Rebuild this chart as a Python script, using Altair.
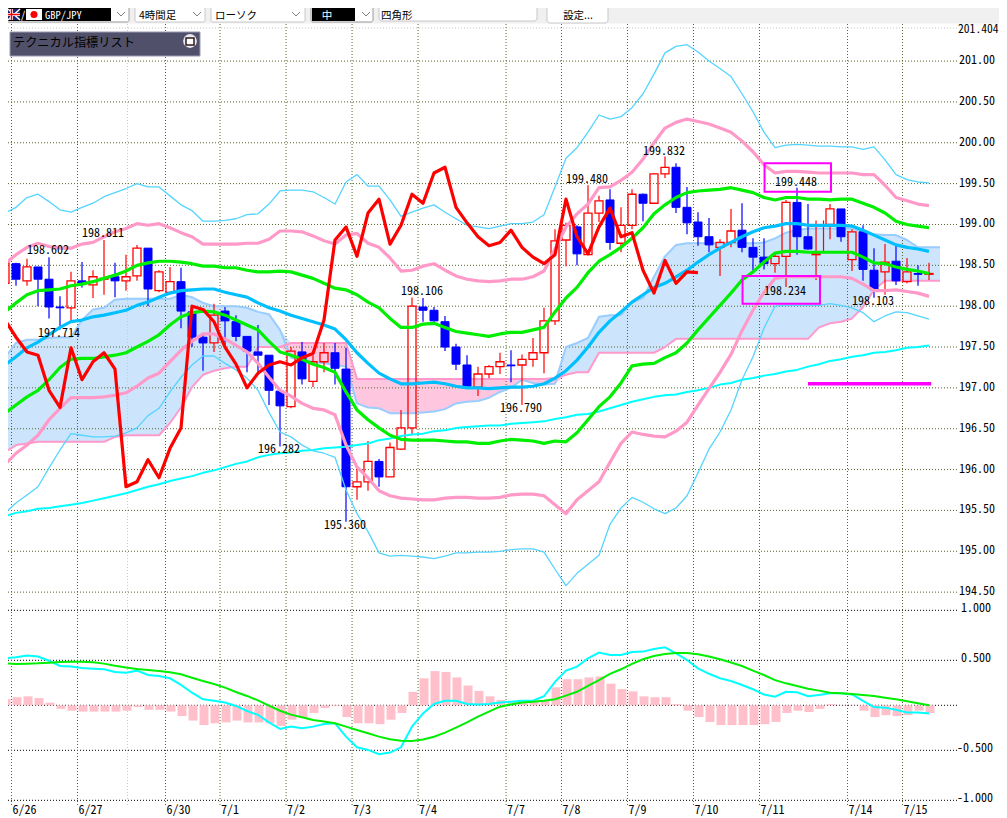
import altair as alt
import numpy as np
import pandas as pd

MONO = "Noto Sans Mono CJK JP, DejaVu Sans Mono, monospace"
CJK = "Noto Sans CJK JP"

opens = [198.28,198.52,198.31,198.48,198.33,197.99,197.98,198.31,198.26,198.33,
198.36,198.31,198.37,198.71,198.19,198.17,198.30,197.93,197.62,197.55,
197.94,197.81,197.63,197.44,197.40,196.96,196.77,197.44,197.08,197.32,
197.43,197.23,195.79,195.85,196.10,195.91,196.25,196.51,197.99,197.95,
197.81,197.50,197.28,197.01,197.17,197.26,197.28,197.28,197.35,197.43,
197.82,198.81,198.97,198.63,199.14,199.30,198.77,198.99,199.37,199.26,
199.62,199.70,199.21,199.03,198.85,198.72,198.78,198.93,198.72,198.60,
198.52,198.61,199.27,198.85,198.63,199.00,199.19,198.57,198.91,198.44,
198.42,198.55,198.30,198.40,198.39]
highs = [198.58,198.53,198.58,198.48,198.60,198.12,198.42,198.54,198.44,198.811,
198.53,198.63,198.75,198.71,198.44,198.48,198.47,198.01,197.67,198.03,
197.99,197.89,197.63,197.77,197.40,196.96,197.50,197.56,197.40,197.55,
197.55,197.49,196.01,196.35,196.13,196.33,196.73,198.106,198.10,197.99,
197.88,197.54,197.40,197.26,197.28,197.43,197.46,197.41,197.61,197.98,
198.94,199.02,198.99,199.48,199.35,199.43,199.21,199.43,199.38,199.63,
199.832,199.75,199.46,199.15,199.08,198.82,199.19,199.26,198.83,198.83,
198.66,199.30,199.448,199.25,199.05,199.25,199.19,198.94,198.99,198.71,
198.76,198.74,198.59,198.50,198.53]
lows = [198.12,198.25,198.25,198.00,197.85,197.714,197.82,198.23,198.10,198.14,
198.11,198.19,198.31,198.00,198.17,198.17,197.73,197.50,197.21,197.44,
197.52,197.57,197.19,197.19,196.79,196.282,196.75,197.04,197.01,197.19,
197.04,195.36,195.63,195.74,195.79,195.91,196.24,196.42,197.81,197.81,
197.45,197.22,197.02,196.90,197.12,197.17,197.07,196.79,197.26,197.18,
197.77,198.49,198.50,198.63,199.03,198.69,198.66,198.94,199.04,199.26,
199.57,199.14,198.88,198.74,198.66,198.37,198.72,198.66,198.42,198.45,
198.41,198.234,198.63,198.69,198.32,198.82,198.79,198.43,198.31,198.103,
198.14,198.26,198.28,198.25,198.32]
closes = [198.53,198.33,198.48,198.33,197.99,197.98,198.31,198.28,198.36,198.34,
198.31,198.36,198.71,198.21,198.42,198.30,197.94,197.62,197.55,197.89,
197.82,197.63,197.45,197.40,196.97,196.78,197.45,197.11,197.32,197.43,
197.24,195.79,195.85,196.10,195.91,196.27,196.51,198.00,197.95,197.82,
197.50,197.29,197.02,197.17,197.26,197.32,197.27,197.35,197.43,197.82,
198.80,198.99,198.64,199.14,199.29,198.78,198.99,199.37,199.26,199.62,
199.70,199.21,199.02,198.85,198.75,198.78,198.92,198.72,198.60,198.52,
198.61,199.27,198.85,198.70,198.64,199.19,198.85,198.91,198.45,198.20,
198.54,198.31,198.42,198.39,198.40]
candle_x = list(range(85))
candle_x[74] = 73.73
extra_wick_x = [74.41]
extra_wick_hi = [199.05]
extra_wick_lo = [198.66]

upper3 = [199.14,199.21,199.33,199.37,199.28,199.18,199.15,199.21,199.26,199.34,
199.39,199.44,199.50,199.46,199.46,199.35,199.24,199.17,199.04,199.04,
199.05,199.07,199.12,199.13,199.25,199.41,199.42,199.42,199.40,199.33,199.25,
199.52,199.61,199.47,199.47,199.30,199.10,199.15,199.20,199.24,199.15,
199.07,198.99,198.97,198.95,198.98,199.01,199.01,199.03,199.12,199.46,
199.81,199.94,200.13,200.34,200.29,200.32,200.43,200.60,200.84,201.10,
201.18,201.20,201.11,201.00,200.91,200.81,200.60,200.38,200.13,199.94,
199.97,199.98,199.97,199.96,199.96,199.95,199.95,199.92,199.95,199.79,
199.61,199.55,199.52,199.51]
upper2 = [198.52,198.63,198.72,198.77,198.73,198.71,198.71,198.76,198.78,198.85,
198.91,198.95,199.01,198.99,199.01,198.96,198.90,198.85,198.76,198.76,
198.76,198.76,198.77,198.77,198.82,198.92,198.92,198.91,198.86,198.80,198.76,
198.87,198.89,198.77,198.72,198.59,198.43,198.44,198.49,198.52,198.44,
198.37,198.33,198.31,198.30,198.31,198.33,198.33,198.36,198.43,198.70,
198.97,199.13,199.25,199.45,199.46,199.54,199.64,199.80,200.00,200.18,
200.25,200.29,200.26,200.23,200.18,200.13,200.02,199.89,199.73,199.63,
199.65,199.65,199.64,199.63,199.63,199.63,199.63,199.61,199.61,199.48,
199.33,199.29,199.25,199.23]
upper1 = [197.93,198.04,198.14,198.19,198.20,198.21,198.25,198.27,198.30,198.34,
198.38,198.43,198.50,198.53,198.55,198.55,198.54,198.52,198.49,198.49,
198.47,198.47,198.44,198.42,198.42,198.43,198.42,198.38,198.34,198.28,198.22,
198.20,198.14,198.05,197.98,197.85,197.74,197.74,197.78,197.79,197.74,
197.69,197.67,197.65,197.63,197.66,197.68,197.68,197.71,197.74,197.93,
198.10,198.23,198.41,198.55,198.63,198.72,198.83,198.96,199.13,199.24,
199.33,199.39,199.41,199.42,199.43,199.45,199.42,199.39,199.33,199.30,
199.33,199.33,199.31,199.31,199.30,199.31,199.31,199.26,199.21,199.14,
199.04,199.00,198.98,198.96]
middle = [197.28,197.38,197.49,197.56,197.65,197.74,197.81,197.83,197.87,197.89,
197.92,197.95,198.01,198.05,198.11,198.16,198.19,198.20,198.21,198.21,
198.17,198.14,198.11,198.04,197.98,197.94,197.89,197.85,197.81,197.77,197.72,
197.59,197.43,197.30,197.18,197.11,197.05,197.05,197.06,197.07,197.05,
197.02,197.00,197.00,196.99,197.00,197.01,197.01,197.02,197.05,197.12,
197.21,197.34,197.50,197.68,197.82,197.93,198.05,198.14,198.23,198.28,
198.36,198.44,198.54,198.63,198.71,198.78,198.85,198.91,198.96,198.98,
199.01,199.01,198.99,198.99,198.99,198.99,198.98,198.93,198.87,198.81,
198.75,198.72,198.70,198.67]
lower1 = [196.69,196.79,196.89,196.97,197.10,197.25,197.35,197.36,197.36,197.38,
197.40,197.43,197.50,197.57,197.65,197.77,197.87,197.92,197.94,197.93,
197.89,197.83,197.77,197.71,197.57,197.44,197.40,197.35,197.29,197.25,197.19,
196.95,196.73,196.61,196.51,196.42,196.37,196.36,196.36,196.36,196.35,
196.34,196.34,196.32,196.32,196.35,196.37,196.36,196.35,196.32,196.35,
196.34,196.45,196.61,196.77,196.89,197.06,197.27,197.29,197.30,197.37,
197.43,197.55,197.71,197.86,198.01,198.16,198.32,198.42,198.54,198.65,
198.67,198.67,198.66,198.66,198.66,198.66,198.66,198.60,198.53,198.52,
198.48,198.45,198.43,198.40]
lower2 = [196.06,196.20,196.30,196.42,196.61,196.75,196.88,196.88,196.88,196.89,
196.91,196.94,197.02,197.12,197.18,197.32,197.46,197.57,197.66,197.66,
197.60,197.52,197.44,197.30,197.13,196.97,196.90,196.81,196.75,196.73,196.67,
196.30,196.03,195.90,195.74,195.68,195.65,195.64,195.63,195.63,195.65,
195.66,195.66,195.65,195.65,195.66,195.69,195.70,195.70,195.68,195.57,
195.46,195.63,195.74,195.85,196.09,196.32,196.46,196.43,196.41,196.40,
196.47,196.58,196.79,196.99,197.19,197.41,197.70,197.95,198.17,198.34,
198.36,198.36,198.36,198.36,198.36,198.36,198.34,198.27,198.19,198.19,
198.20,198.18,198.16,198.12]
lower3 = [195.47,195.59,195.69,195.79,196.02,196.24,196.44,196.42,196.40,196.40,
196.41,196.45,196.51,196.66,196.75,196.95,197.13,197.28,197.39,197.39,
197.30,197.22,197.12,196.97,196.70,196.46,196.40,196.30,196.23,196.20,196.15,
195.75,195.46,195.24,194.98,194.94,194.95,194.94,194.93,194.91,194.94,
194.98,194.98,194.99,194.99,195.00,195.02,195.03,195.03,194.99,194.78,
194.58,194.73,194.84,194.95,195.33,195.53,195.66,195.60,195.52,195.46,
195.53,195.68,195.96,196.25,196.46,196.73,197.10,197.38,197.73,198.00,
198.01,198.01,198.01,198.01,198.03,198.01,197.98,197.92,197.81,197.88,
197.93,197.92,197.88,197.84]
long_ma = [195.43,195.47,195.49,195.52,195.53,195.55,195.57,195.59,195.62,195.65,
195.68,195.71,195.75,195.79,195.82,195.86,195.89,195.92,195.96,195.99,
196.03,196.07,196.10,196.15,196.18,196.20,196.21,196.23,196.24,196.26,196.27,
196.28,196.30,196.32,196.36,196.38,196.41,196.43,196.44,196.47,196.48,
196.51,196.52,196.53,196.54,196.54,196.56,196.57,196.58,196.59,196.62,
196.64,196.67,196.68,196.71,196.75,196.79,196.83,196.86,196.89,196.91,
196.92,196.95,196.97,197.00,197.04,197.06,197.10,197.12,197.15,197.17,
197.20,197.22,197.26,197.29,197.33,197.35,197.38,197.40,197.43,197.44,
197.46,197.49,197.50,197.52]
chikou = [197.83,197.62,197.44,197.40,196.97,196.76,197.49,197.10,197.32,197.43,
197.23,195.79,195.85,196.12,195.90,196.26,196.51,198.00,197.96,197.81,
197.50,197.29,197.00,197.18,197.28,197.32,197.28,197.37,197.42,197.83,198.81,
198.97,198.61,199.14,199.31,198.76,198.99,199.37,199.26,199.63,199.70,
199.21,199.02,198.85,198.74,198.78,198.93,198.72,198.60,198.52,198.63,
199.31,198.85,198.64,198.97,199.20,198.85,198.90,198.44,198.16,198.56,
198.28,198.42,198.41]
span_a = [197.37,197.55,197.59,197.59,197.61,197.62,197.62,197.83,197.96,197.98,
198.08,198.09,198.09,198.09,198.09,198.09,198.14,198.11,198.04,198.00,
198.00,198.00,197.98,197.93,197.90,197.71,197.37,197.35,197.32,197.30,
197.28,197.26,196.81,196.76,196.75,196.69,196.69,196.69,196.70,196.71,
196.74,196.81,196.83,196.84,196.88,196.95,197.00,197.10,197.06,197.04,
197.05,197.50,197.55,197.61,197.87,197.89,197.89,198.05,198.10,198.36,
198.61,198.75,198.77,198.77,198.77,198.77,198.77,198.77,198.77,198.78,
198.83,198.90,198.93,198.95,198.95,198.95,198.95,198.95,198.91,198.88,
198.87,198.87,198.81,198.72,198.72,198.72]
span_b = ([196.21,196.30,196.32] + [196.34]*7 + [196.40] + [196.42]*4 +
          [196.57,196.76,197.01,197.16,197.21,197.24,197.26,197.26] + [197.50]*3 +
          [197.55]*6 + [197.11]*18 + [197.12,197.16,197.19,197.19] + [197.43]*6 +
          [197.50] + [197.60]*13 + [197.74,197.79,197.81,197.85,197.99,198.20] + [198.31]*6)

macd_hist = [.07,.09,.10,.08,.03,-.04,-.06,-.07,-.07,-.07,-.07,-.06,-.02,-.05,-.05,-.07,
-.12,-.17,-.22,-.20,-.19,-.17,-.19,-.19,-.20,-.23,-.16,-.14,-.085,-.03,-.01,-.13,-.20,-.20,
-.21,-.16,-.085,.15,.30,.38,.37,.31,.22,.16,.10,.06,.05,.04,.05,.06,.20,.29,.29,.31,.32,
.24,.18,.155,.10,.09,.09,.015,-.06,-.13,-.185,-.22,-.22,-.22,-.22,-.21,-.185,-.085,-.06,
-.075,-.04,.015,.004,.004,-.06,-.13,-.11,-.12,-.11,-.06,-.085]
macd_line = [.52,.53,.547,.537,.495,.437,.43,.415,.407,.40,.37,.363,.385,.337,.326,.30,.226,
.14,.067,.05,.03,-.007,-.063,-.107,-.19,-.263,-.237,-.256,-.237,-.207,-.2,-.348,-.467,-.496,
-.54,-.523,-.467,-.237,-.09,.015,.05,.05,.015,.01,.015,.03,.04,.05,.05,.10,.26,.385,.43,.52,
.577,.553,.553,.583,.587,.613,.63,.57,.503,.41,.35,.30,.27,.226,.178,.12,.096,.15,.145,.10,
.115,.133,.133,.12,.05,-.02,-.026,-.05,-.08,-.08,-.09]
macd_signal = [.467,.46,.463,.467,.474,.48,.485,.485,.478,.463,.44,.42,.404,.393,.38,.367,.344,
.307,.27,.237,.196,.148,.104,.055,-.004,-.06,-.104,-.133,-.163,-.18,-.2,-.237,-.274,-.31,-.348,
-.377,-.393,-.396,-.381,-.35,-.303,-.248,-.19,-.126,-.07,-.015,.01,.03,.04,.05,.067,.107,.15,
.215,.28,.35,.40,.46,.51,.543,.563,.573,.573,.56,.537,.51,.476,.437,.385,.337,.28,.244,.215,
.185,.163,.14,.133,.126,.115,.104,.085,.067,.044,.022,0]

price_ticks = [194.5 + 0.5*k for k in range(14)]
price_labels = ["%.2f" % p for p in price_ticks]
macd_ticks = [1.0, 0.5, 0.0, -0.5, -1.0]
macd_labels = ["1.000", "0.500", "", "-0.500", "-1.000"]
date_x = [0.59,6.59,14.59,19.55,25.55,31.55,37.55,45.55,50.59,56.59,62.59,68.59,76.59,81.59]
date_labels = ["6/26","6/27","6/30","7/1","7/2","7/3","7/4","7/7","7/8","7/9","7/10","7/11","7/14","7/15"]
light_grid_x = [11.14]
note_x = [3.9,8.9,4.9,24.9,30.9,37.9,46.9,52.9,59.9,71.9,70.9,78.9]
note_y = [198.69,198.90,197.67,196.25,195.32,198.19,196.75,199.56,199.90,199.52,198.19,198.06]
note_t = ["198.602","198.811","197.714","196.282","195.360","198.106","196.790","199.480","199.832","199.448","198.234","198.103"]

W, H = 991, 810
X = dict(scale=alt.Scale(domain=[0.2727, 90.3636], range=[0, W], nice=False, zero=False, padding=0), axis=None)
YT = dict(scale=alt.Scale(domain=[194.4, 201.45], range=[592.3, 16.3], nice=False, zero=False, padding=0), axis=None)
YM = dict(scale=alt.Scale(domain=[-1, -0.5, 0, 0.5, 1], range=[792.3, 742.3, 697.3, 652.3, 602.3], nice=False, zero=False, padding=0), axis=None)
ONE = alt.Data(values=[{"a": 1}])
GRID = "#55662a"
layers = []

def xq(f="x"):
    return alt.X(f + ":Q", **X)
def yp(f="y"):
    return alt.Y(f + ":Q", **YT)
def ym(f="y"):
    return alt.Y(f + ":Q", **YM)
def line(xs, ys, color, width):
    df = pd.DataFrame({"x": xs, "y": ys})
    return alt.Chart(df).mark_line(color=color, strokeWidth=width, strokeJoin="round").encode(x=xq(), y=yp())

# Ichimoku cloud
ki = list(range(86))
a, b = np.array(span_a), np.array(span_b)
kumo = pd.DataFrame({"x": ki, "b": b, "top": np.maximum(a, b), "bot": np.minimum(a, b)})
layers.append(alt.Chart(kumo).mark_area(color="#cce5fc", opacity=1).encode(x=xq(), y=yp("top"), y2=alt.Y2("b:Q")))
layers.append(alt.Chart(kumo).mark_area(color="#ffc6e0", opacity=1).encode(x=xq(), y=yp("b"), y2=alt.Y2("bot:Q")))

# grid
grid_df = pd.DataFrame({"y": price_ticks, "t": price_labels})
layers.append(alt.Chart(grid_df).mark_rule(color=GRID, strokeDash=[1, 2], strokeWidth=1).encode(
    y=yp(), x=alt.value(0), x2=alt.value(949)))
layers.append(alt.Chart(pd.DataFrame({"y": [201.404]})).mark_rule(color="#c8c8c8", strokeDash=[1, 2], strokeWidth=1).encode(
    y=yp(), x=alt.value(0), x2=alt.value(949)))
md_df = pd.DataFrame({"y": macd_ticks, "t": macd_labels})
layers.append(alt.Chart(md_df).mark_rule(color="#000000", strokeDash=[1, 2], strokeWidth=1).encode(
    y=ym(), x=alt.value(0), x2=alt.value(949)))
vg = pd.DataFrame({"x": date_x, "t": date_labels})
layers.append(alt.Chart(vg).mark_rule(color=GRID, strokeDash=[1, 2], strokeWidth=1).encode(
    x=xq(), y=alt.value(16), y2=alt.value(797)))
layers.append(alt.Chart(pd.DataFrame({"x": light_grid_x})).mark_rule(color="#c8c8c8", strokeDash=[1, 2], strokeWidth=1).encode(
    x=xq(), y=alt.value(16), y2=alt.value(797)))

# cloud edges
layers.append(line(ki, span_a, "#99ccff", 2))
layers.append(line(ki, span_b, "#ff99cc", 2))

# candles
c = pd.DataFrame({"x": candle_x, "o": opens, "h": highs, "l": lows, "c": closes})
c["top"] = c[["o", "c"]].max(axis=1)
c["bot"] = c[["o", "c"]].min(axis=1)
up = c[c.c >= c.o]
dn = c[c.c < c.o]
for part, col in ((up, "#ff0000"), (dn, "#0000ff")):
    layers.append(alt.Chart(part).mark_rule(color=col, strokeWidth=1.2).encode(x=xq(), y=yp("h"), y2=alt.Y2("top:Q")))
    layers.append(alt.Chart(part).mark_rule(color=col, strokeWidth=1.2).encode(x=xq(), y=yp("bot"), y2=alt.Y2("l:Q")))
layers.append(alt.Chart(pd.DataFrame({"x": extra_wick_x, "h": extra_wick_hi, "l": extra_wick_lo})).mark_rule(
    color="#ff0000", strokeWidth=1.2).encode(x=xq(), y=yp("h"), y2=alt.Y2("l:Q")))
layers.append(alt.Chart(dn).mark_bar(size=8, color="#0000ff", stroke="#0000ff", strokeWidth=1).encode(
    x=xq(), y=yp("top"), y2=alt.Y2("bot:Q")))
layers.append(alt.Chart(up).mark_bar(size=8, fillOpacity=0, stroke="#ff0000", strokeWidth=1.3).encode(
    x=xq(), y=yp("top"), y2=alt.Y2("bot:Q")))

# bands
bi = list(range(85))
layers.append(line(bi, long_ma, "#00ffff", 2))
layers.append(line(bi, upper3, "#55d4ff", 1.3))
layers.append(line(bi, lower3, "#55d4ff", 1.3))
layers.append(line(bi, upper2, "#ff99c8", 3.2))
layers.append(line(bi, lower2, "#ff99c8", 3.2))
layers.append(line(bi, middle, "#00bfff", 3.2))
layers.append(line(bi, upper1, "#00ee00", 3.2))
layers.append(line(bi, lower1, "#00ee00", 3.2))
layers.append(line(bi[:64], chikou, "#ff0000", 3.2))

# MACD
m = pd.DataFrame({"x": bi, "h": macd_hist, "z": [0]*85, "m": macd_line, "s": macd_signal})
layers.append(alt.Chart(m).mark_bar(size=9, color="#ffc0cb", xOffset=1).encode(x=xq(), y=ym("h"), y2=alt.Y2("z:Q")))
layers.append(alt.Chart(m).mark_line(color="#00ffff", strokeWidth=2).encode(x=xq(), y=ym("m")))
layers.append(alt.Chart(m).mark_line(color="#00ee00", strokeWidth=2).encode(x=xq(), y=ym("s")))

# magenta annotations
rects = pd.DataFrame({"x": [69.05, 67.05], "x2": [75.09, 74.09], "y": [199.75, 198.37], "y2": [199.40, 198.03]})
layers.append(alt.Chart(rects).mark_rect(fillOpacity=0, stroke="#ff00ff", strokeWidth=2).encode(
    x=xq(), x2=alt.X2("x2:Q"), y=yp(), y2=alt.Y2("y2:Q")))
layers.append(alt.Chart(pd.DataFrame({"x": [73.0], "x2": [84.2], "y": [197.05]})).mark_rule(color="#ff00ff", strokeWidth=3.5).encode(
    x=xq(), x2=alt.X2("x2:Q"), y=yp()))

# texts
notes = pd.DataFrame({"x": note_x, "y": note_y, "t": note_t})
layers.append(alt.Chart(notes).mark_text(font=MONO, fontSize=12, color="#000000", align="center", baseline="middle").encode(
    x=xq(), y=yp(), text="t:N"))
layers.append(alt.Chart(grid_df).mark_text(font=MONO, fontSize=12, color="#000000", align="left", baseline="middle", dx=1, dy=-1).encode(
    x=alt.value(950), y=yp(), text="t:N"))
layers.append(alt.Chart(md_df[md_df.y > 0]).mark_text(font=MONO, fontSize=12, color="#000000", align="right", baseline="middle", dy=-2).encode(
    x=alt.value(983), y=ym(), text="t:N"))
layers.append(alt.Chart(md_df[md_df.y < 0]).mark_text(font=MONO, fontSize=12, color="#000000", align="right", baseline="middle", dy=-2).encode(
    x=alt.value(985), y=ym(), text="t:N"))
layers.append(alt.Chart(vg).mark_text(font=MONO, fontSize=12, color="#000000", align="left", baseline="middle", dx=1).encode(
    x=xq(), y=alt.value(802), text="t:N"))

# interface chrome (page pixel minus the 8px page margin)
def box(x1, y1, x2, y2, fill, stroke=None, r=0, sw=1):
    kw = dict(fill=fill, cornerRadius=r)
    if stroke:
        kw.update(stroke=stroke, strokeWidth=sw)
    return alt.Chart(ONE).mark_rect(**kw).encode(
        x=alt.value(x1 - 8), x2=alt.value(x2 - 8), y=alt.value(y1 - 8), y2=alt.value(y2 - 8))
def label(x, y, t, color="#000000", size=12, align="left", font=CJK):
    return alt.Chart(ONE).mark_text(text=t, font=font, fontSize=size, color=color, align=align, baseline="middle").encode(
        x=alt.value(x - 8), y=alt.value(y - 8))
def seg(x1, y1, x2, y2, color, w=1):
    return alt.Chart(ONE).mark_rule(color=color, strokeWidth=w).encode(
        x=alt.value(x1 - 8), x2=alt.value(x2 - 8), y=alt.value(y1 - 8), y2=alt.value(y2 - 8))
def chevron(x, y=14):
    return [seg(x - 4, y - 2, x, y + 2, "#808080"), seg(x, y + 2, x + 4, y - 2, "#808080")]

ch = [box(0, 0, 1007, 23.5, "#f0f0f0")]
ch += [box(1, 3, 129, 22, "#ffffff", "#9a9a9a", 2), box(3, 4, 111, 21, "#000000")]
ch += [box(3, 9, 20, 20, "#1a2a7a"), seg(8, 9, 20, 20, "#ffffff", 1.5), seg(8, 20, 20, 9, "#ffffff", 1.5),
       seg(11.5, 9, 11.5, 20, "#ffffff", 3), seg(8, 14.5, 20, 14.5, "#ffffff", 3),
       seg(11.5, 9, 11.5, 20, "#ff0000", 1.5), seg(8, 14.5, 20, 14.5, "#ff0000", 1.5)]
ch += [label(21, 16, "/", "#ffffff", 10.5), box(26, 9, 42, 20, "#ffffff")]
ch += [alt.Chart(ONE).mark_point(filled=True, color="#ff0000", size=50, opacity=1).encode(x=alt.value(26), y=alt.value(6.5))]
ch += [label(45, 16, "GBP/JPY", "#ffffff", 10.5, font=MONO)] + chevron(121)
ch += [box(135, 3, 205, 22, "#ffffff", "#c8c8c8", 2), label(139, 16, "4時間足", size=10.5)] + chevron(197)
ch += [box(211, 3, 305, 22, "#ffffff", "#c8c8c8", 2), label(215, 16, "ローソク", size=10.5)] + chevron(296)
ch += [box(311, 3, 373, 22, "#ffffff", "#9a9a9a", 2), box(312, 4, 355, 21, "#000000"), label(327, 16, "中", "#ffffff", 10.5, align="center")] + chevron(366)
ch += [box(379, 3, 537, 21, "#ffffff", "#c8c8c8", 3), label(381, 16, "四角形", size=10.5)]
ch += [box(547, 3, 608, 23, "#ffffff", "#c8c8c8", 3), label(578, 16, "設定...", size=10.5, align="center")]
ch += [box(10, 32, 200, 56, "#50506a", "#9a9ab4", 0), label(13, 43, "テクニカル指標リスト", "#000000", 12.2)]
ch += [alt.Chart(ONE).mark_point(filled=True, color="#e8e8f0", size=190, opacity=1).encode(x=alt.value(182), y=alt.value(33)),
       box(186, 38, 194, 45, "#ffffff", "#301818", 0, 1.5)]
layers += ch
# highest price label sits just below the toolbar, drawn last so it stays whole
layers.append(alt.Chart(pd.DataFrame({"y": [201.404], "t": ["201.404"]})).mark_text(font=MONO, fontSize=11.6, color="#000000", align="left", baseline="middle", dy=2).encode(
    x=alt.value(950), y=yp(), text="t:N"))

chart = alt.layer(*layers).resolve_scale(y="independent").properties(
    width=W, height=H, padding=0, autosize=alt.AutoSizeParams(type="none")
).configure_view(stroke=None)

chart.save("out.html", embed_options={"renderer": "svg", "actions": False})
